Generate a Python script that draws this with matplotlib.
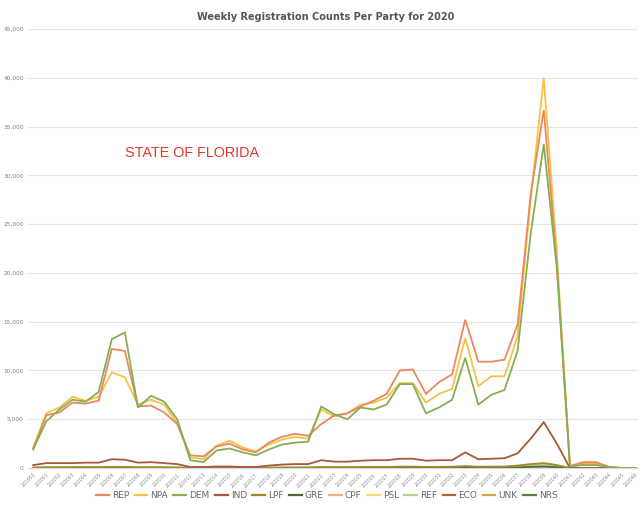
import numpy as np
import matplotlib.pyplot as plt

# week labels: 201952 then 202001..202046
weeks = ["201952"] + ["2020%02d" % w for w in range(1, 47)]

parties = ["REP", "NPA", "DEM", "IND", "LPF", "GRE", "CPF", "PSL", "REF", "ECO", "UNK", "NRS"]
colors = ["#E8895E", "#F6C244", "#85AE55", "#A5583A", "#A08A2C", "#4E6B35",
          "#F2AE86", "#F8D77A", "#B4D08F", "#B0603D", "#D5A446", "#5E7F3E"]

rep = [2000, 5400, 5700, 6700, 6600, 6900, 12200, 12000, 6300, 6400,
       5700, 4500, 1300, 1200, 2200, 2500, 1900, 1600, 2600, 3200,
       3500, 3300, 4500, 5400, 5600, 6300, 6900, 7600, 10000, 10100,
       7600, 8800, 9600, 15200, 10900, 10900, 11100, 14700, 28000, 36700,
       21000, 200, 600, 600, 100, 0, 0]
npa = [2100, 5600, 6200, 7300, 6900, 7300, 9800, 9300, 6500, 7000,
       6500, 4600, 1100, 900, 2300, 2800, 2100, 1700, 2400, 2900,
       3200, 3000, 6000, 5300, 5600, 6500, 6700, 7200, 8700, 8700,
       6700, 7600, 8100, 13300, 8400, 9400, 9400, 13500, 27500, 40000,
       22000, 200, 400, 400, 100, 0, 0]
dem = [1900, 4800, 6000, 7000, 6800, 7800, 13200, 13900, 6200, 7400,
       6800, 5000, 800, 600, 1800, 2000, 1600, 1300, 1900, 2400,
       2600, 2700, 6300, 5500, 5000, 6200, 6000, 6500, 8600, 8600,
       5600, 6200, 7000, 11300, 6500, 7500, 8000, 12000, 24000, 33200,
       20500, 200, 300, 300, 100, 0, 0]
ind = [300, 500, 500, 500, 550, 550, 900, 850, 550, 600,
       500, 400, 100, 100, 150, 150, 100, 100, 250, 350,
       400, 400, 800, 650, 650, 750, 800, 800, 950, 950,
       750, 800, 800, 1600, 900, 950, 1000, 1500, 3000, 4700,
       2500, 0, 0, 0, 0, 0, 0]
lpf = [50, 80, 80, 90, 90, 90, 120, 120, 80, 80,
       70, 60, 20, 20, 30, 30, 30, 20, 40, 50,
       60, 60, 100, 90, 90, 100, 110, 110, 140, 140,
       110, 120, 130, 200, 130, 140, 150, 250, 400, 500,
       300, 0, 0, 0, 0, 0, 0]
gre = [10, 20, 20, 20, 20, 20, 30, 30, 20, 20,
       20, 15, 5, 5, 10, 10, 10, 5, 10, 15,
       15, 15, 30, 25, 25, 30, 30, 30, 40, 40,
       30, 30, 35, 60, 40, 40, 45, 70, 120, 150,
       80, 0, 0, 0, 0, 0, 0]
cpf = [5, 10, 10, 10, 10, 10, 15, 15, 10, 10,
       10, 8, 2, 2, 5, 5, 5, 3, 5, 8,
       8, 8, 15, 12, 12, 15, 15, 15, 20, 20,
       15, 15, 18, 30, 20, 20, 22, 35, 60, 80,
       40, 0, 0, 0, 0, 0, 0]
psl = [5, 10, 10, 10, 10, 10, 15, 15, 10, 10,
       10, 8, 2, 2, 5, 5, 5, 3, 5, 8,
       8, 8, 15, 12, 12, 15, 15, 15, 20, 20,
       15, 15, 18, 30, 20, 20, 22, 35, 60, 80,
       40, 0, 0, 0, 0, 0, 0]
ref = [20, 40, 40, 50, 50, 50, 70, 70, 40, 50,
       40, 30, 10, 10, 15, 15, 10, 10, 20, 25,
       30, 30, 50, 40, 40, 50, 50, 55, 70, 70,
       50, 60, 60, 120, 70, 80, 80, 150, 280, 350,
       200, 0, 0, 0, 0, 0, 0]
eco = [10, 20, 20, 20, 20, 20, 30, 30, 20, 20,
       20, 15, 5, 5, 10, 10, 10, 5, 10, 15,
       15, 15, 30, 25, 25, 30, 30, 30, 40, 40,
       30, 30, 35, 60, 40, 40, 45, 70, 120, 150,
       80, 0, 0, 0, 0, 0, 0]
unk = [0, 0, 0, 0, 0, 0, 0, 0, 0, 0,
       0, 0, 0, 0, 0, 0, 0, 0, 0, 0,
       0, 0, 0, 0, 0, 0, 0, 0, 0, 0,
       0, 0, 0, 0, 0, 0, 0, 0, 0, 0,
       0, 0, 500, 500, 100, 0, 0]
nrs = [0, 0, 0, 0, 0, 0, 0, 0, 0, 0,
       0, 0, 0, 0, 0, 0, 0, 0, 0, 0,
       0, 0, 0, 0, 0, 0, 0, 0, 0, 0,
       0, 0, 0, 0, 0, 0, 0, 0, 0, 0,
       0, 0, 0, 0, 0, 0, 0]

series = [rep, npa, dem, ind, lpf, gre, cpf, psl, ref, eco, unk, nrs]

fig = plt.figure(figsize=(6.41, 5.08), dpi=100)
ax = fig.add_axes([28/641, 1 - 468/508, 610/641, 439/508])

x = np.arange(len(weeks))
# draw small ones first so the big three sit on top
order = [11, 10, 9, 8, 7, 6, 5, 4, 3, 1, 0, 2]
lines = {}
for k in order:
    ln, = ax.plot(x, series[k], color=colors[k], lw=1.3, label=parties[k],
                  solid_joinstyle="miter")
    lines[k] = ln

ax.set_xlim(-0.4, 46.2)
ax.set_ylim(0, 45000)
ax.set_yticks(np.arange(0, 45001, 5000))
ax.set_yticklabels(["{:,}".format(v) for v in range(0, 45001, 5000)],
                   fontsize=4.2, color="#7f7f7f")
ax.set_xticks(x)
ax.set_xticklabels(weeks, rotation=45, ha="right", rotation_mode="anchor",
                   fontsize=3.3, color="#8a8a8a")
ax.tick_params(length=0, pad=3)
ax.grid(axis="y", color="#e4e4e4", lw=0.8)
ax.set_axisbelow(True)
for s in ["top", "right", "left"]:
    ax.spines[s].set_visible(False)
ax.spines["bottom"].set_color("#d9d9d9")

ax.text(7, 32300, "STATE OF FLORIDA", color="#E03A2F", fontsize=10.4,
        family="Liberation Sans", va="center", ha="left")

fig.suptitle("Weekly Registration Counts Per Party for 2020", y=0.977,
             fontsize=7, fontweight="bold", color="#555555", x=0.508)

handles = [lines[k] for k in range(12)]
leg = fig.legend(handles, parties, loc="center", bbox_to_anchor=(0.51, 0.024),
                 ncol=12, frameon=False, fontsize=6.5, handlelength=1.4,
                 handletextpad=0.35, columnspacing=0.6, labelcolor="#666666")
for h in leg.legend_handles:
    h.set_linewidth(1.6)

fig.savefig("out.png", dpi=100)
